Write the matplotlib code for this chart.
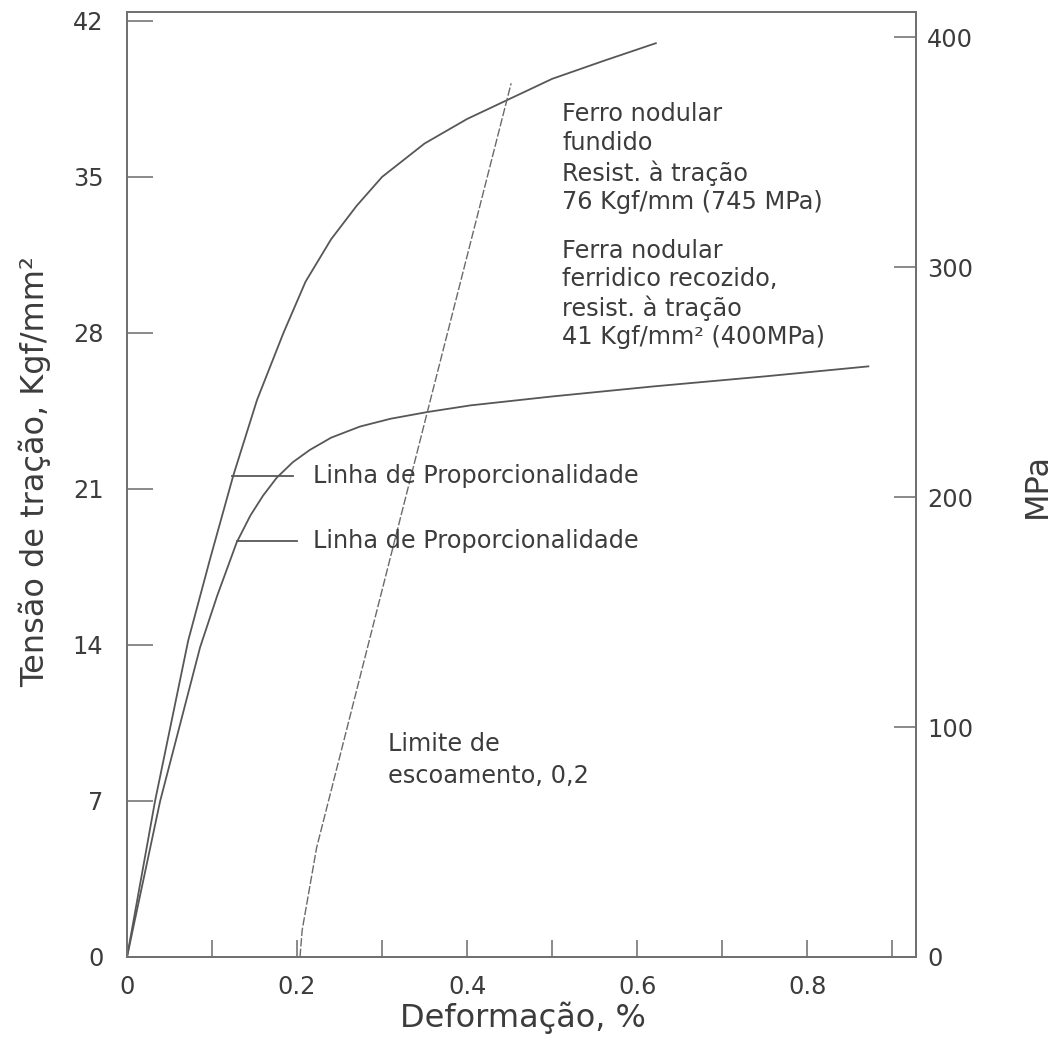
import numpy as np
import matplotlib
matplotlib.use("Agg")
import matplotlib.pyplot as plt
from matplotlib.ticker import FixedLocator, FixedFormatter

# (strain %, stress kgf/mm2)
strain_fundido = [0, 0.033, 0.072, 0.098, 0.125, 0.153, 0.184, 0.21, 0.24, 0.27, 0.30,
                  0.35, 0.40, 0.45, 0.50, 0.56, 0.622]
stress_fundido = [0, 7.0, 14.2, 17.9, 21.6, 25.0, 28.0, 30.3, 32.2, 33.7, 35.0,
                  36.5, 37.6, 38.5, 39.4, 40.2, 41.0]

strain_recozido = [0, 0.039, 0.086, 0.106, 0.129, 0.145, 0.16, 0.176, 0.195, 0.215, 0.24,
                   0.274, 0.31, 0.353, 0.404, 0.5, 0.619, 0.75, 0.872]
stress_recozido = [0, 7.0, 13.9, 16.2, 18.6, 19.8, 20.7, 21.5, 22.2, 22.75, 23.3,
                   23.8, 24.15, 24.45, 24.75, 25.15, 25.6, 26.05, 26.5]

# 0.2 % offset line
strain_offset = [0.2035, 0.206, 0.223, 0.3529, 0.4518]
stress_offset = [0, 1.2, 4.9, 24.4, 39.2]

# proportionality marks: (x0, x1, y)
prop_marks = [(0.124, 0.195, 21.6), (0.129, 0.200, 18.65)]

x_major = [0, 0.2, 0.4, 0.6, 0.8]
x_major_labels = ["0", "0.2", "0.4", "0.6", "0.8"]
x_minor = [0.1, 0.3, 0.5, 0.7, 0.9]
y_kgf = [0, 7, 14, 21, 28, 35, 42]
y_mpa = [0, 100, 200, 300, 400]

LINE = "#575757"
TXT = "#3c3c3c"
FS = 17.3

fig = plt.figure(figsize=(10.57, 10.41), dpi=100)
ax = fig.add_axes([127 / 1057, 1 - 957 / 1041, 789 / 1057, 945 / 1041])

ax.plot(strain_fundido, stress_fundido, color=LINE, lw=1.3)
ax.plot(strain_recozido, stress_recozido, color=LINE, lw=1.3)
ax.plot(strain_offset, stress_offset, color="#6a6a6a", lw=1.0, ls=(0, (6, 1.6)))
for x0, x1, y in prop_marks:
    ax.plot([x0, x1], [y, y], color=LINE, lw=1.3)
    ax.text(0.219, y, "Linha de Proporcionalidade", color=TXT, fontsize=FS,
            ha="left", va="center")

ax.text(0.512, 38.35, "Ferro nodular\nfundido\nResist. à tração\n76 Kgf/mm (745 MPa)",
        color=TXT, fontsize=FS, ha="left", va="top", linespacing=1.25)
ax.text(0.512, 32.2, "Ferra nodular\nferridico recozido,\nresist. à tração\n41 Kgf/mm² (400MPa)",
        color=TXT, fontsize=FS, ha="left", va="top", linespacing=1.2)
ax.text(0.307, 10.1, "Limite de\nescoamento, 0,2", color=TXT, fontsize=FS,
        ha="left", va="top", linespacing=1.45)

ax.set_xlim(0, 0.928)
ax.set_ylim(0, 42.4)
ax.xaxis.set_major_locator(FixedLocator(x_major))
ax.xaxis.set_major_formatter(FixedFormatter(x_major_labels))
ax.xaxis.set_minor_locator(FixedLocator(x_minor))
ax.yaxis.set_major_locator(FixedLocator(y_kgf))
ax.tick_params(axis="x", which="both", direction="in", length=12, width=1.2,
               color="#777777", labelsize=FS, labelcolor=TXT, pad=13)
ax.tick_params(axis="y", direction="in", length=19, width=1.2, color="#777777",
               labelsize=FS, labelcolor=TXT, pad=17)
for sp in ax.spines.values():
    sp.set_color("#707070")
    sp.set_linewidth(1.3)

ax2 = ax.twinx()
ax2.set_ylim(0, 411)
ax2.yaxis.set_major_locator(FixedLocator(y_mpa))
ax2.tick_params(axis="y", direction="in", length=16, width=1.2, color="#777777",
                labelsize=FS, labelcolor=TXT, pad=8)
for sp in ax2.spines.values():
    sp.set_color("#707070")
    sp.set_linewidth(1.3)

fig.text(35 / 1057, 1 - 472 / 1041, "Tensão de tração, Kgf/mm²", rotation=90,
         ha="center", va="center", fontsize=23, color=TXT)
fig.text(523 / 1057, 1 - 1018 / 1041, "Deformação, %", ha="center", va="center",
         fontsize=23, color=TXT)
fig.text(1037 / 1057, 1 - 485 / 1041, "MPa", rotation=90, ha="center", va="center",
         fontsize=23, color=TXT)

fig.savefig("out.png", dpi=100)
